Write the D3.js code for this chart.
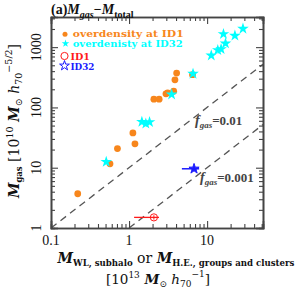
<!DOCTYPE html>
<html>
<head>
<meta charset="utf-8">
<script src="https://cdn.jsdelivr.net/npm/d3@7"></script>
<style>
  body { margin: 0; background: #fff; }
  svg text { font-family: "Liberation Serif", "Times New Roman", serif; }
  svg text.wide { font-family: "DejaVu Serif", serif; }
</style>
</head>
<body>
<svg id="chart" width="299" height="289"></svg>
<script>
// values (M_total in 1e13, M_gas in 1e10)
var orangeX = [0.22, 0.57, 0.71, 1.12, 1.19, 2.08, 2.43, 2.97, 3.12, 3.73, 3.87, 4.07, 6.5];
var orangeY = [3.7, 11.6, 20.8, 37.8, 24.9, 137, 137, 168, 175, 186, 287, 371, 350];
var cyanX = [0.51, 1.46, 1.64, 1.83, 3.51, 6.6, 11.3, 13.7, 15.1, 17.2, 16.2, 22.7, 28.8];
var cyanY = [12.5, 57.7, 54, 57, 164, 362, 728, 895, 930, 1153, 1650, 1550, 2020];
var id1 = {x: 2.08, y: 1.5, xlo: 1.16, xhi: 2.42, ylo: 1.38, yhi: 1.63};
var id32 = {x: 6.8, y: 9.6, xlo: 4.75, xhi: 7.9};
var fgas = [0.01, 0.001];
var fgasLabels = ["=0.01", "=0.001"];
var xTickLabels = [0.1, 1, 10];
var yTickLabels = [1, 10, 100, 1000];
var legendLabels = ["overdensity at ID1", "overdenisty at ID32", "ID1", "ID32"];

var svg = d3.select("#chart"),
    margin = {top: 17, right: 36, bottom: 61, left: 51},
    width = 299 - margin.left - margin.right,
    height = 289 - margin.top - margin.bottom,
    g = svg.append("g").attr("transform", "translate(" + margin.left + "," + margin.top + ")");

var x = d3.scaleLog().domain([0.1, 52]).range([0, width]),
    y = d3.scaleLog().domain([1, 3162]).range([height, 0]);

var frameCol = "#444",
    orange = "#f7861c",
    cyan = "#00ffff",
    red = "#ff1a1a",
    blue = "#1a1aff";

// f_gas reference lines: M_gas[1e10] = f * M_tot[1e13] * 1000
var line = d3.line()
    .x(function(d) { return x(d[0]); })
    .y(function(d) { return y(d[1]); });

g.append("defs").append("clipPath").attr("id", "clip")
  .append("rect").attr("width", width).attr("height", height);

fgas.forEach(function(f) {
  var x0 = Math.max(0.1, 1 / (f * 1000));
  g.append("path")
    .attr("clip-path", "url(#clip)")
    .attr("d", line([[x0, f * 1000 * x0], [52, f * 1000 * 52]]))
    .attr("fill", "none")
    .attr("stroke", "#555")
    .attr("stroke-width", 1.3)
    .attr("stroke-dasharray", "7,5");
});

// f_gas labels
var flab = [[195, 125], [200, 182]];
fgas.forEach(function(f, i) {
  var t = g.append("text")
    .attr("x", flab[i][0] - margin.left)
    .attr("y", flab[i][1] - margin.top)
    .attr("fill", "#444")
    .attr("font-weight", "bold")
    .attr("font-size", 13);
  t.append("tspan").attr("font-style", "italic").attr("font-size", 14).text("f");
  t.append("tspan").attr("font-style", "italic").attr("font-size", 9).attr("dy", 3).text("gas");
  t.append("tspan").attr("dy", -3).text(fgasLabels[i]);
});

// axes with inward ticks, majors + minors on all four sides
function drawAxis(axisFn, scale, transform) {
  var isMajor = function(v) {
    return Math.abs(Math.log10(v) - Math.round(Math.log10(v))) < 1e-6;
  };
  var majors = scale.ticks().filter(isMajor),
      minors = scale.ticks().filter(function(v) { return !isMajor(v); });
  var a = g.append("g").attr("transform", transform)
    .call(axisFn(scale).tickValues(majors).tickSize(-7).tickFormat(""));
  var b = g.append("g").attr("transform", transform)
    .call(axisFn(scale).tickValues(minors).tickSize(-4).tickFormat(""));
  [a, b].forEach(function(s) {
    s.select(".domain").attr("stroke", frameCol).attr("stroke-width", 1.6);
    s.selectAll(".tick line").attr("stroke", frameCol).attr("stroke-width", 1.1);
  });
}
drawAxis(d3.axisBottom, x, "translate(0," + height + ")");
drawAxis(d3.axisTop, x, "translate(0,0)");
drawAxis(d3.axisLeft, y, "translate(0,0)");
drawAxis(d3.axisRight, y, "translate(" + width + ",0)");

// tick labels
g.selectAll(".xlab").data(xTickLabels).enter().append("text")
  .attr("x", function(d) { return x(d); })
  .attr("y", height + 17)
  .attr("text-anchor", "middle")
  .attr("font-size", 14)
  .attr("fill", "#111")
  .text(function(d) { return d; });

g.selectAll(".ylab").data(yTickLabels).enter().append("text")
  .attr("transform", function(d) { return "translate(-10," + y(d) + ") rotate(-90)"; })
  .attr("text-anchor", "middle")
  .attr("font-size", 14)
  .attr("fill", "#111")
  .text(function(d) { return d; });

// error bars
g.append("line")
  .attr("x1", x(id1.xlo)).attr("x2", x(id1.xhi))
  .attr("y1", y(id1.y)).attr("y2", y(id1.y))
  .attr("stroke", red).attr("stroke-width", 1.3);
g.append("line")
  .attr("x1", x(id1.x)).attr("x2", x(id1.x))
  .attr("y1", y(id1.ylo)).attr("y2", y(id1.yhi))
  .attr("stroke", red).attr("stroke-width", 1);
g.append("line")
  .attr("x1", x(id32.xlo)).attr("x2", x(id32.xhi))
  .attr("y1", y(id32.y)).attr("y2", y(id32.y))
  .attr("stroke", blue).attr("stroke-width", 1.5);

var star = d3.symbol().type(d3.symbolStar);

// orange points
g.selectAll(".pt").data(d3.zip(orangeX, orangeY)).enter().append("circle")
  .attr("cx", function(d) { return x(d[0]); })
  .attr("cy", function(d) { return y(d[1]); })
  .attr("r", 3.4)
  .attr("fill", orange);

// cyan stars
g.selectAll(".st").data(d3.zip(cyanX, cyanY)).enter().append("path")
  .attr("transform", function(d) { return "translate(" + x(d[0]) + "," + y(d[1]) + ")"; })
  .attr("d", star.size(42)())
  .attr("fill", cyan);

// ID1 and ID32
g.append("circle")
  .attr("cx", x(id1.x)).attr("cy", y(id1.y)).attr("r", 3.6)
  .attr("fill", "none").attr("stroke", red).attr("stroke-width", 1);
g.append("path")
  .attr("transform", "translate(" + x(id32.x) + "," + y(id32.y) + ")")
  .attr("d", star.size(32)())
  .attr("fill", blue).attr("stroke", blue).attr("stroke-width", 1);

// legend
var leg = [
  {lx: 65, ly: 34.3, tx: 72.7, ty: 37.4, len: 111, fs: 9, col: orange, sym: "dot"},
  {lx: 65.5, ly: 43.6, tx: 72.7, ty: 47.2, len: 110, fs: 9, col: cyan, sym: "star"},
  {lx: 64.5, ly: 56, tx: 70.5, ty: 59.8, len: 19.5, fs: 9.5, col: red, sym: "ocircle"},
  {lx: 64.5, ly: 65.7, tx: 70.5, ty: 69.6, len: 24, fs: 9.5, col: blue, sym: "ostar"}
];
leg.forEach(function(d, i) {
  var cx = d.lx - margin.left, cy = d.ly - margin.top;
  if (d.sym == "dot")
    g.append("circle").attr("cx", cx).attr("cy", cy).attr("r", 2.5).attr("fill", d.col);
  else if (d.sym == "star")
    g.append("path").attr("transform", "translate(" + cx + "," + cy + ")")
      .attr("d", star.size(18)()).attr("fill", d.col);
  else if (d.sym == "ocircle")
    g.append("circle").attr("cx", cx).attr("cy", cy).attr("r", 3.6)
      .attr("fill", "none").attr("stroke", d.col).attr("stroke-width", 1);
  else
    g.append("path").attr("transform", "translate(" + cx + "," + cy + ")")
      .attr("d", star.size(30)()).attr("fill", "none").attr("stroke", d.col).attr("stroke-width", 1);
  g.append("text")
    .attr("class", "wide")
    .attr("x", d.tx - margin.left)
    .attr("y", d.ty - margin.top)
    .attr("font-size", d.fs)
    .attr("font-weight", "bold")
    .attr("fill", d.col)
    .attr("textLength", d.len)
    .attr("lengthAdjust", "spacingAndGlyphs")
    .text(legendLabels[i]);
});

// title
var title = svg.append("text").attr("x", 51).attr("y", 13.5)
  .attr("font-size", 14).attr("font-weight", "bold").attr("fill", "#111");
title.append("tspan").text("(a)");
title.append("tspan").attr("font-style", "italic").text("M");
title.append("tspan").attr("font-style", "italic").attr("font-size", 10).attr("dy", 4).text("gas");
title.append("tspan").attr("dy", -4).text("\u2212");
title.append("tspan").attr("font-style", "italic").text("M");
title.append("tspan").attr("font-size", 10).attr("dy", 4).text("total");

// x label
var xl1 = svg.append("text").attr("class", "wide").attr("x", 176).attr("y", 263)
  .attr("text-anchor", "middle").attr("font-size", 14).attr("font-weight", "bold").attr("fill", "#111");
xl1.append("tspan").attr("font-style", "italic").text("M");
xl1.append("tspan").attr("font-size", 8.6).attr("dy", 3).text("WL, subhalo");
xl1.append("tspan").attr("dy", -3).attr("font-weight", "normal").text(" or ");
xl1.append("tspan").attr("font-style", "italic").text("M");
xl1.append("tspan").attr("font-size", 8.6).attr("dy", 3).text("H.E., groups and clusters");

var xl2 = svg.append("text").attr("class", "wide").attr("x", 158).attr("y", 284)
  .attr("text-anchor", "middle").attr("font-size", 13.5).attr("fill", "#111");
xl2.append("tspan").text("[10");
xl2.append("tspan").attr("font-size", 9).attr("dy", -6).text("13");
xl2.append("tspan").attr("dy", 6).attr("font-style", "italic").attr("font-weight", "bold").text(" M");
xl2.append("tspan").attr("font-size", 9).attr("dy", 3).text("\u2299");
xl2.append("tspan").attr("dy", -3).attr("font-style", "italic").text(" h");
xl2.append("tspan").attr("font-size", 9).attr("dy", 3).text("70");
xl2.append("tspan").attr("font-size", 9).attr("dy", -10).text("\u22121");
xl2.append("tspan").attr("dy", 7).text("]");

// y label
var yl = svg.append("text").attr("class", "wide").attr("transform", "translate(19,121) rotate(-90)")
  .attr("text-anchor", "middle").attr("font-size", 14).attr("fill", "#111");
yl.append("tspan").attr("font-style", "italic").attr("font-weight", "bold").text("M");
yl.append("tspan").attr("font-size", 8.5).attr("font-weight", "bold").attr("dy", 3).text("gas");
yl.append("tspan").attr("dy", -3).text(" [10");
yl.append("tspan").attr("font-size", 9.5).attr("dy", -6).text("10");
yl.append("tspan").attr("dy", 6).attr("font-style", "italic").attr("font-weight", "bold").text(" M");
yl.append("tspan").attr("font-size", 9.5).attr("dy", 3).text("\u2299");
yl.append("tspan").attr("dy", -3).attr("font-style", "italic").text(" h");
yl.append("tspan").attr("font-size", 9.5).attr("dy", 3).text("70");
yl.append("tspan").attr("font-size", 9.5).attr("dy", -10).text("\u22125/2");
yl.append("tspan").attr("dy", 7).text("]");
</script>
</body>
</html>
